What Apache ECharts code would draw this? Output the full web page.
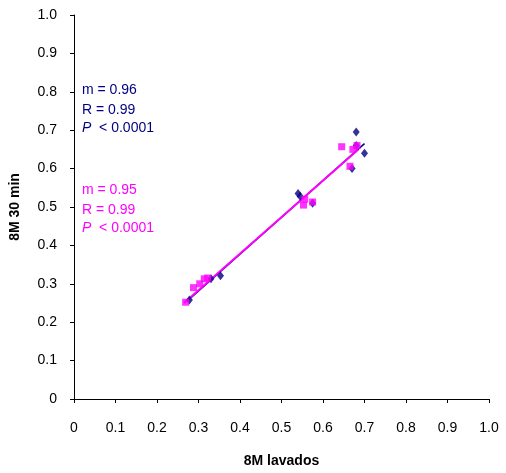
<!DOCTYPE html>
<html><head><meta charset="utf-8">
<script src="https://cdn.jsdelivr.net/npm/echarts@6/dist/echarts.min.js"></script>
<style>html,body{margin:0;padding:0;background:#fff}#c{width:506px;height:473px}</style>
</head><body><div id="c"></div>
<script>
const navyX = [0.278, 0.330, 0.353, 0.540, 0.545, 0.575, 0.670, 0.680, 0.680, 0.700];
const navyY = [0.258, 0.313, 0.321, 0.535, 0.528, 0.510, 0.600, 0.695, 0.660, 0.640];
const pinkX = [0.269, 0.288, 0.303, 0.314, 0.322, 0.553, 0.556, 0.575, 0.645, 0.665, 0.672, 0.682];
const pinkY = [0.252, 0.290, 0.300, 0.313, 0.315, 0.505, 0.520, 0.513, 0.657, 0.606, 0.650, 0.660];
const navyLineX = [0.275, 0.700];
const navyLineY = [0.257, 0.665];
const pinkLineX = [0.265, 0.685];
const pinkLineY = [0.250, 0.650];
const tickLabels = ['0','0.1','0.2','0.3','0.4','0.5','0.6','0.7','0.8','0.9','1.0'];

const zip = (a,b)=>a.map((v,i)=>[v,b[i]]);
const font = 'Liberation Sans, Arial, sans-serif';
const navy = '#000080', pink = '#FF00FF';
const axisCommon = {
  min:0, max:1, interval:0.1,
  axisLine:{show:true,lineStyle:{color:'#000',width:1}},
  axisTick:{show:true,length:4,lineStyle:{color:'#000'}},
  splitLine:{show:false},
  axisLabel:{color:'#000',fontSize:14,fontFamily:font,
    formatter:v=>tickLabels[Math.round(v*10)]},
  nameTextStyle:{color:'#000',fontSize:14,fontWeight:'bold',fontFamily:font}
};
const chart = echarts.init(document.getElementById('c'));
chart.setOption({
  animation:false,
  grid:{left:71,right:17,top:15,bottom:73,containLabel:false},
  xAxis:Object.assign({},axisCommon,{type:'value',name:'8M lavados',nameLocation:'middle',nameGap:55,
    axisLabel:Object.assign({},axisCommon.axisLabel,{margin:22})}),
  yAxis:Object.assign({},axisCommon,{type:'value',name:'8M 30 min',nameLocation:'middle',nameGap:52,
    axisLabel:Object.assign({},axisCommon.axisLabel,{margin:17})}),
  graphic:[
    {type:'text',left:82,top:80,style:{text:'m = 0.96\nR = 0.99',fill:navy,font:'14px '+font,lineHeight:20}},
    {type:'text',left:82,top:121,style:{rich:{i:{fontStyle:'italic',fill:navy,font:'italic 14px '+font},n:{fill:navy,font:'14px '+font}},text:'{i|P}{n|  < 0.0001}'}},
    {type:'text',left:82,top:180,style:{text:'m = 0.95\nR = 0.99',fill:pink,font:'14px '+font,lineHeight:20}},
    {type:'text',left:82,top:221,style:{rich:{i:{fontStyle:'italic',fill:pink,font:'italic 14px '+font},n:{fill:pink,font:'14px '+font}},text:'{i|P}{n|  < 0.0001}'}}
  ],
  series:[
    {type:'line',data:zip(navyLineX,navyLineY),showSymbol:false,lineStyle:{color:navy,width:1.5},z:1},
    {type:'line',data:zip(pinkLineX,pinkLineY),showSymbol:false,lineStyle:{color:pink,width:2},z:2},
    {type:'scatter',data:zip(navyX,navyY),symbol:'diamond',symbolSize:[7,9],itemStyle:{color:navy},z:3},
    {type:'scatter',data:zip(pinkX,pinkY),symbol:'rect',symbolSize:7,itemStyle:{color:pink},z:4}
  ]
});
</script></body></html>
